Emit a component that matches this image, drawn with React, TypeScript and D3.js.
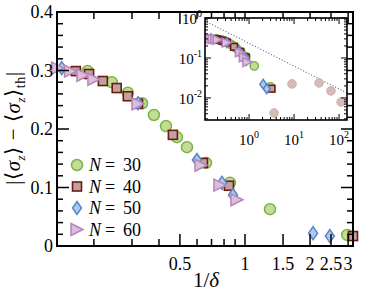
import React, { useEffect } from "react";
import * as d3 from "d3";

// ---- data ----
const n30X = [0.187, 0.242, 0.287, 0.334, 0.379, 0.431, 0.484, 0.539, 0.66, 0.852, 1.305, 2.97];
const n30Y = [0.299, 0.28, 0.262, 0.244, 0.224, 0.205, 0.186, 0.169, 0.142, 0.108, 0.063, 0.019];
const n40X = [0.165, 0.19, 0.22, 0.255, 0.287, 0.32, 0.464, 0.639, 0.843, 3.16];
const n40Y = [0.299, 0.294, 0.282, 0.27, 0.256, 0.243, 0.19, 0.142, 0.103, 0.017];
const n50X = [0.142, 0.32, 0.599, 0.783, 0.88, 2.065, 2.47];
const n50Y = [0.304, 0.244, 0.147, 0.108, 0.087, 0.022, 0.017];
const n60X = [0.136, 0.156, 0.178, 0.2, 0.32, 0.626, 0.766, 0.918];
const n60Y = [0.304, 0.299, 0.292, 0.285, 0.243, 0.138, 0.104, 0.079];
const extraX = [3.6, 9.0, 36, 66, 111];
const extraY = [0.0042, 0.0224, 0.0237, 0.015, 0.0079];
const guideX = [0.115, 150];
const guideY = [0.8, 0.0133];

const seriesN = ["30", "40", "50", "60"];
const xTickVals = [0.5, 1, 1.5, 2, 2.5, 3];
const xTickLabels = ["0.5", "1", "1.5", "2", "2.5", "3"];
const xMinorVals = [0.2, 0.3, 0.4, 0.6, 0.7, 0.8, 0.9];
const yTickVals = [0, 0.1, 0.2, 0.3, 0.4];
const yTickLabels = ["0", "0.1", "0.2", "0.3", "0.4"];
const insetXMajor = [1, 10, 100];
const insetXExp = ["0", "1", "2"];
const insetYMajor = [1, 0.1, 0.01];
const insetYExp = ["0", "-1", "-2"];

const styles = [
  { shape: "circle", fill: "#c3dc98", stroke: "#7cb444" },
  { shape: "square", fill: "#c2a2a0", stroke: "#6a1c12" },
  { shape: "diamond", fill: "#a9c9f0", stroke: "#5d84c4" },
  { shape: "triangle", fill: "#dcbedc", stroke: "#b585bd" },
];

const FONT = "'Liberation Serif', 'Times New Roman', serif";

function Marker({ x, y, shape, fill, stroke, s = 1 }: any) {
  if (shape === "circle")
    return <circle cx={x} cy={y} r={5.5 * s} fill={fill} stroke={stroke} strokeWidth={1.5} />;
  if (shape === "square") {
    const h = 4.5 * s;
    return <rect x={x - h} y={y - h} width={2 * h} height={2 * h} fill={fill} stroke={stroke} strokeWidth={1.6} />;
  }
  if (shape === "diamond") {
    const w = 4.5 * s, h = 6.5 * s;
    return <path d={`M${x},${y - h}L${x + w},${y}L${x},${y + h}L${x - w},${y}Z`} fill={fill} stroke={stroke} strokeWidth={1.5} />;
  }
  const w = 6 * s, h = 6 * s;
  return <path d={`M${x - w},${y - h}L${x + w},${y}L${x - w},${y + h}Z`} fill={fill} stroke={stroke} strokeWidth={1.5} />;
}

export default function App() {
  useEffect(() => {
    document.body.style.margin = "0";
  }, []);

  const L = 57, R = 353, T = 12, B = 246;
  const x = d3.scaleLog().domain([0.135, 3.16]).range([L, R]);
  const y = d3.scaleLinear().domain([0, 0.4]).range([B, T]);

  const iL = 205, iR = 347, iT = 18, iB = 120;
  const ix = d3.scaleLog().domain([0.105, 150]).range([iL, iR]);
  const iy = d3.scaleLog().domain([0.0028, 1]).range([iB, iT]);

  const xs = [n30X, n40X, n50X, n60X];
  const ys = [n30Y, n40Y, n50Y, n60Y];

  const yMinor = d3.range(0, 0.401, 0.02).filter((v) => Math.abs(v * 10 - Math.round(v * 10)) > 1e-6);

  const ixMinor: number[] = [];
  [0.1, 1, 10, 100].forEach((dec) => {
    for (let k = 2; k <= 9; k++) {
      const v = dec * k;
      if (v > 0.105 && v < 150) ixMinor.push(v);
    }
  });
  const iyMinor: number[] = [];
  [0.001, 0.01, 0.1].forEach((dec) => {
    for (let k = 2; k <= 9; k++) {
      const v = dec * k;
      if (v > 0.0028 && v < 1) iyMinor.push(v);
    }
  });

  const line = d3.line<number>().x((_, i) => ix(guideX[i])).y((d) => iy(d));

  return (
    <svg width={390} height={293} style={{ display: "block", background: "#fff" }} fontFamily={FONT}>
      {/* main data */}
      {xs.map((xa, si) =>
        xa.map((xv, i) => (
          <Marker key={`${si}-${i}`} x={x(xv)} y={y(ys[si][i])} {...styles[si]} />
        ))
      )}

      {/* main ticks */}
      <g stroke="#000" strokeWidth={1.5}>
        {xTickVals.map((v) => (
          <g key={`xt${v}`}>
            <line x1={x(v)} x2={x(v)} y1={B} y2={B - 12} />
            <line x1={x(v)} x2={x(v)} y1={T} y2={T + 12} />
          </g>
        ))}
        {xMinorVals.map((v) => (
          <g key={`xm${v}`}>
            <line x1={x(v)} x2={x(v)} y1={B} y2={B - 7} />
            <line x1={x(v)} x2={x(v)} y1={T} y2={T + 7} />
          </g>
        ))}
        {yTickVals.map((v) => (
          <g key={`yt${v}`}>
            <line x1={L} x2={L + 12} y1={y(v)} y2={y(v)} />
            <line x1={R} x2={R - 12} y1={y(v)} y2={y(v)} />
          </g>
        ))}
        {yMinor.map((v) => (
          <g key={`ym${v}`}>
            <line x1={L} x2={L + 6} y1={y(v)} y2={y(v)} />
            <line x1={R} x2={R - 6} y1={y(v)} y2={y(v)} />
          </g>
        ))}
      </g>

      {/* inset */}
      <rect x={iL} y={iT} width={iR - iL} height={iB - iT} fill="#fff" />
      <path d={line(guideY) || ""} fill="none" stroke="#666" strokeWidth={1.1} strokeDasharray="1,2" />
      {extraX.map((v, i) => (
        <circle key={`ex${i}`} cx={ix(v)} cy={iy(extraY[i])} r={4.3} fill="#d5bcb8" stroke="#cdb1ad" strokeWidth={1} />
      ))}
      {xs.map((xa, si) =>
        xa.map((xv, i) => (
          <Marker key={`i${si}-${i}`} x={ix(xv)} y={iy(ys[si][i])} s={0.75} {...styles[si]} />
        ))
      )}
      <g stroke="#000" strokeWidth={1}>
        {insetXMajor.map((v) => (
          <g key={`ixt${v}`}>
            <line x1={ix(v)} x2={ix(v)} y1={iB} y2={iB - 6} />
            <line x1={ix(v)} x2={ix(v)} y1={iT} y2={iT + 6} />
          </g>
        ))}
        {ixMinor.map((v) => (
          <g key={`ixm${v}`}>
            <line x1={ix(v)} x2={ix(v)} y1={iB} y2={iB - 3} />
            <line x1={ix(v)} x2={ix(v)} y1={iT} y2={iT + 3} />
          </g>
        ))}
        {insetYMajor.map((v) => (
          <g key={`iyt${v}`}>
            <line x1={iL} x2={iL + 6} y1={iy(v)} y2={iy(v)} />
            <line x1={iR} x2={iR - 6} y1={iy(v)} y2={iy(v)} />
          </g>
        ))}
        {iyMinor.map((v) => (
          <g key={`iym${v}`}>
            <line x1={iL} x2={iL + 3} y1={iy(v)} y2={iy(v)} />
            <line x1={iR} x2={iR - 3} y1={iy(v)} y2={iy(v)} />
          </g>
        ))}
      </g>
      <rect x={iL} y={iT} width={iR - iL} height={iB - iT} fill="none" stroke="#000" strokeWidth={1.6} />
      {insetXMajor.map((v, i) => (
        <text key={`ixl${v}`} x={ix(v)} y={iB + 25} textAnchor="middle" fontSize={15}>
          10<tspan fontSize={10} dy={-7}>{insetXExp[i]}</tspan>
        </text>
      ))}
      {insetYMajor.map((v, i) => (
        <text key={`iyl${v}`} x={iL - 3} y={iy(v) + 6} textAnchor="end" fontSize={15}>
          10<tspan fontSize={10} dy={-7}>{insetYExp[i]}</tspan>
        </text>
      ))}

      {/* main frame */}
      <rect x={L} y={T} width={R - L} height={B - T} fill="none" stroke="#000" strokeWidth={2} />

      {/* main tick labels */}
      {xTickVals.map((v, i) => (
        <text key={`xl${v}`} x={x(v)} y={B + 24} textAnchor="middle" fontSize={18}>
          {xTickLabels[i]}
        </text>
      ))}
      {yTickVals.map((v, i) => (
        <text key={`yl${v}`} x={L - 4} y={y(v) + 6} textAnchor="end" fontSize={18}>
          {yTickLabels[i]}
        </text>
      ))}

      {/* axis labels */}
      <text x={206} y={287} textAnchor="middle" fontSize={21}>
        1/<tspan fontStyle="italic">δ</tspan>
      </text>
      <text transform="translate(20,128) rotate(-90)" textAnchor="middle" fontSize={21} letterSpacing={0.6}>
        |⟨<tspan fontStyle="italic">σ</tspan>
        <tspan fontSize={13} fontStyle="italic" dy={5}>z</tspan>
        <tspan dy={-5}>⟩ − ⟨</tspan>
        <tspan fontStyle="italic">σ</tspan>
        <tspan fontSize={13} fontStyle="italic" dy={5}>z</tspan>
        <tspan dy={-5}>⟩</tspan>
        <tspan fontSize={14} dy={5}>th</tspan>
        <tspan dy={-5}>|</tspan>
      </text>

      {/* legend */}
      {seriesN.map((n, i) => {
        const ly = 165 + i * 21.5;
        return (
          <g key={n}>
            <Marker x={77} y={ly} {...styles[i]} />
            <text y={ly + 6} fontSize={18}>
              <tspan x={89} fontStyle="italic">N</tspan>
              <tspan x={105}>=</tspan>
              <tspan x={123}>{n}</tspan>
            </text>
          </g>
        );
      })}
    </svg>
  );
}
